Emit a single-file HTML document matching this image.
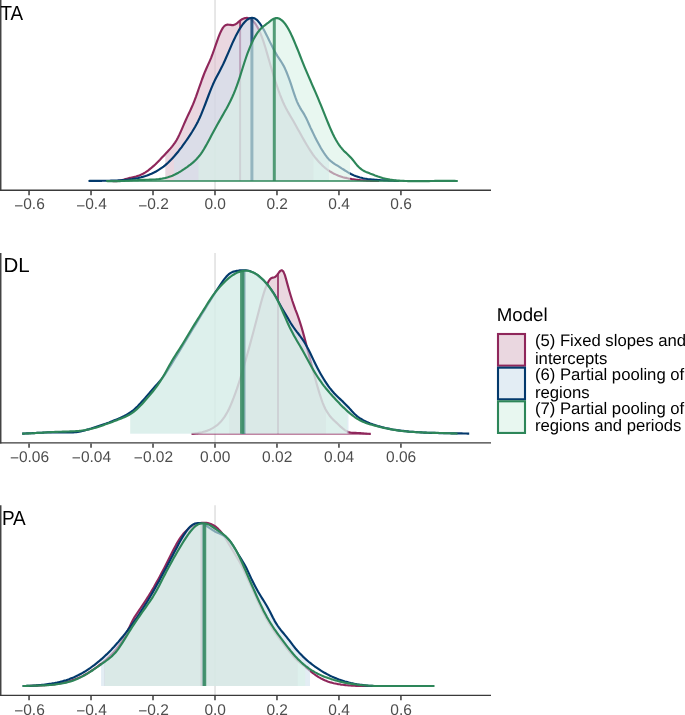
<!DOCTYPE html>
<html><head><meta charset="utf-8"><title>Posterior densities</title>
<style>html,body{margin:0;padding:0;background:#fff;}svg{display:block;font-family:"Liberation Sans",sans-serif;-webkit-font-smoothing:antialiased;text-rendering:geometricPrecision;}text{-webkit-font-smoothing:antialiased;}</style></head><body>
<svg style="will-change:transform" width="685" height="715" viewBox="0 0 685 715">
<rect x="0" y="0" width="685" height="715" fill="#ffffff"/>
<defs><clipPath id="c0m"><rect x="165.30" y="-5.00" width="148.20" height="186.00"/></clipPath><clipPath id="c0b"><rect x="174.10" y="-5.00" width="154.90" height="186.00"/></clipPath><clipPath id="c0g"><rect x="198.50" y="-5.00" width="151.50" height="186.00"/></clipPath><clipPath id="c1m"><rect x="229.10" y="247.90" width="96.90" height="185.80"/></clipPath><clipPath id="c1b"><rect x="130.40" y="247.90" width="218.10" height="185.80"/></clipPath><clipPath id="c1g"><rect x="130.20" y="247.90" width="216.90" height="185.80"/></clipPath><clipPath id="c2m"><rect x="104.10" y="500.30" width="193.70" height="185.70"/></clipPath><clipPath id="c2b"><rect x="101.05" y="500.30" width="208.95" height="185.70"/></clipPath><clipPath id="c2g"><rect x="104.60" y="500.30" width="200.65" height="185.70"/></clipPath></defs>
<line x1="215.05" x2="215.05" y1="0.00" y2="190.25" stroke="#e6e6e6" stroke-width="1.9"/>
<path d="M112.0,181.0L113.5,181.1L115.0,181.1L116.5,181.1L118.0,181.0L119.5,180.7L121.0,180.4L122.5,180.0L124.0,179.6L125.5,179.1L127.0,178.7L128.5,178.3L130.0,177.9L131.5,177.6L133.0,177.2L134.5,176.9L136.0,176.5L137.5,176.0L139.0,175.5L140.5,174.9L142.0,174.2L143.5,173.5L145.0,172.6L146.5,171.6L148.0,170.6L149.5,169.4L151.0,168.2L152.5,166.9L154.0,165.6L155.5,164.2L157.0,162.7L158.5,161.2L160.0,159.7L161.5,158.1L163.0,156.5L164.5,154.9L166.0,153.3L167.5,151.7L169.0,150.1L170.5,148.4L172.0,146.6L173.5,144.7L175.0,142.6L176.5,140.2L178.0,137.5L179.5,134.4L181.0,131.1L182.5,127.6L184.0,124.1L185.5,120.7L187.0,117.4L188.5,114.3L190.0,111.1L191.5,107.8L193.0,104.4L194.5,100.6L196.0,96.6L197.5,92.3L199.0,88.0L200.5,83.8L202.0,79.5L203.5,75.5L205.0,71.7L206.5,68.3L208.0,64.9L209.5,61.6L211.0,58.1L212.5,54.2L214.0,50.0L215.5,45.7L217.0,41.3L218.5,37.2L220.0,33.4L221.5,30.2L223.0,27.6L224.5,25.9L226.0,25.0L227.5,24.6L229.0,24.7L230.5,24.9L232.0,25.1L233.5,25.1L235.0,24.6L236.5,23.7L238.0,22.4L239.5,21.1L241.0,19.9L242.5,19.0L244.0,18.4L245.5,18.0L247.0,17.9L248.5,18.2L250.0,18.8L251.5,19.7L253.0,21.0L254.5,22.7L256.0,24.7L257.5,27.2L259.0,30.1L260.5,33.5L262.0,37.3L263.5,41.6L265.0,46.3L266.5,51.4L268.0,56.6L269.5,61.8L271.0,67.0L272.5,72.0L274.0,76.9L275.5,81.7L277.0,86.2L278.5,90.5L280.0,94.6L281.5,98.4L283.0,102.0L284.5,105.2L286.0,108.2L287.5,111.0L289.0,113.6L290.5,116.2L292.0,118.7L293.5,121.3L295.0,124.0L296.5,126.7L298.0,129.4L299.5,132.1L301.0,134.8L302.5,137.5L304.0,140.1L305.5,142.7L307.0,145.3L308.5,147.7L310.0,150.1L311.5,152.4L313.0,154.6L314.5,156.6L316.0,158.5L317.5,160.3L319.0,162.0L320.5,163.6L322.0,165.1L323.5,166.5L325.0,167.8L326.5,169.0L328.0,170.1L329.5,171.1L331.0,172.0L332.5,172.9L334.0,173.7L335.5,174.4L337.0,175.1L338.5,175.7L340.0,176.2L341.5,176.7L343.0,177.2L344.5,177.6L346.0,177.9L347.5,178.3L349.0,178.6L350.5,178.8L352.0,179.1L353.5,179.3L355.0,179.5L356.5,179.7L358.0,179.9L359.5,180.0L361.0,180.2L362.5,180.3L364.0,180.4L365.5,180.5L367.0,180.6L368.5,180.7L370.0,180.8L371.5,180.8L373.0,180.9L374.5,180.9L376.0,181.0L377.5,181.0L379.0,181.0L379.0,181.0 L112.0,181.0 Z" fill="#dcbccc" fill-opacity="0.60" stroke="none" clip-path="url(#c0m)"/>
<line x1="240.10" x2="240.10" y1="20.60" y2="181.00" stroke="#8f275b" stroke-opacity="0.80" stroke-width="2.00"/>
<path d="M112.0,181.0L113.5,181.1L115.0,181.1L116.5,181.1L118.0,181.0L119.5,180.7L121.0,180.4L122.5,180.0L124.0,179.6L125.5,179.1L127.0,178.7L128.5,178.3L130.0,177.9L131.5,177.6L133.0,177.2L134.5,176.9L136.0,176.5L137.5,176.0L139.0,175.5L140.5,174.9L142.0,174.2L143.5,173.5L145.0,172.6L146.5,171.6L148.0,170.6L149.5,169.4L151.0,168.2L152.5,166.9L154.0,165.6L155.5,164.2L157.0,162.7L158.5,161.2L160.0,159.7L161.5,158.1L163.0,156.5L164.5,154.9L166.0,153.3L167.5,151.7L169.0,150.1L170.5,148.4L172.0,146.6L173.5,144.7L175.0,142.6L176.5,140.2L178.0,137.5L179.5,134.4L181.0,131.1L182.5,127.6L184.0,124.1L185.5,120.7L187.0,117.4L188.5,114.3L190.0,111.1L191.5,107.8L193.0,104.4L194.5,100.6L196.0,96.6L197.5,92.3L199.0,88.0L200.5,83.8L202.0,79.5L203.5,75.5L205.0,71.7L206.5,68.3L208.0,64.9L209.5,61.6L211.0,58.1L212.5,54.2L214.0,50.0L215.5,45.7L217.0,41.3L218.5,37.2L220.0,33.4L221.5,30.2L223.0,27.6L224.5,25.9L226.0,25.0L227.5,24.6L229.0,24.7L230.5,24.9L232.0,25.1L233.5,25.1L235.0,24.6L236.5,23.7L238.0,22.4L239.5,21.1L241.0,19.9L242.5,19.0L244.0,18.4L245.5,18.0L247.0,17.9L248.5,18.2L250.0,18.8L251.5,19.7L253.0,21.0L254.5,22.7L256.0,24.7L257.5,27.2L259.0,30.1L260.5,33.5L262.0,37.3L263.5,41.6L265.0,46.3L266.5,51.4L268.0,56.6L269.5,61.8L271.0,67.0L272.5,72.0L274.0,76.9L275.5,81.7L277.0,86.2L278.5,90.5L280.0,94.6L281.5,98.4L283.0,102.0L284.5,105.2L286.0,108.2L287.5,111.0L289.0,113.6L290.5,116.2L292.0,118.7L293.5,121.3L295.0,124.0L296.5,126.7L298.0,129.4L299.5,132.1L301.0,134.8L302.5,137.5L304.0,140.1L305.5,142.7L307.0,145.3L308.5,147.7L310.0,150.1L311.5,152.4L313.0,154.6L314.5,156.6L316.0,158.5L317.5,160.3L319.0,162.0L320.5,163.6L322.0,165.1L323.5,166.5L325.0,167.8L326.5,169.0L328.0,170.1L329.5,171.1L331.0,172.0L332.5,172.9L334.0,173.7L335.5,174.4L337.0,175.1L338.5,175.7L340.0,176.2L341.5,176.7L343.0,177.2L344.5,177.6L346.0,177.9L347.5,178.3L349.0,178.6L350.5,178.8L352.0,179.1L353.5,179.3L355.0,179.5L356.5,179.7L358.0,179.9L359.5,180.0L361.0,180.2L362.5,180.3L364.0,180.4L365.5,180.5L367.0,180.6L368.5,180.7L370.0,180.8L371.5,180.8L373.0,180.9L374.5,180.9L376.0,181.0L377.5,181.0L379.0,181.0" fill="none" stroke="#8f275b" stroke-width="2.15" stroke-linejoin="round" stroke-linecap="butt"/>
<path d="M88.5,181.0L90.0,180.9L91.5,180.9L93.0,180.9L94.5,180.8L96.0,180.8L97.5,180.8L99.0,180.8L100.5,180.8L102.0,180.8L103.5,180.7L105.0,180.7L106.5,180.7L108.0,180.7L109.5,180.7L111.0,180.6L112.5,180.6L114.0,180.6L115.5,180.5L117.0,180.5L118.5,180.4L120.0,180.3L121.5,180.2L123.0,180.1L124.5,180.0L126.0,179.8L127.5,179.7L129.0,179.5L130.5,179.3L132.0,179.1L133.5,178.8L135.0,178.6L136.5,178.3L138.0,178.0L139.5,177.6L141.0,177.3L142.5,176.9L144.0,176.4L145.5,176.0L147.0,175.5L148.5,174.9L150.0,174.3L151.5,173.7L153.0,173.0L154.5,172.3L156.0,171.5L157.5,170.6L159.0,169.7L160.5,168.7L162.0,167.7L163.5,166.6L165.0,165.4L166.5,164.1L168.0,162.8L169.5,161.3L171.0,159.8L172.5,158.2L174.0,156.6L175.5,154.8L177.0,153.0L178.5,151.2L180.0,149.2L181.5,147.3L183.0,145.2L184.5,143.1L186.0,141.0L187.5,138.8L189.0,136.6L190.5,134.3L192.0,132.0L193.5,129.5L195.0,127.0L196.5,124.3L198.0,121.4L199.5,118.3L201.0,114.9L202.5,111.2L204.0,107.4L205.5,103.5L207.0,99.5L208.5,95.5L210.0,91.6L211.5,87.8L213.0,84.3L214.5,81.1L216.0,78.1L217.5,75.2L219.0,72.4L220.5,69.5L222.0,66.6L223.5,63.5L225.0,60.2L226.5,56.8L228.0,53.3L229.5,49.8L231.0,46.3L232.5,42.9L234.0,39.7L235.5,36.6L237.0,33.7L238.5,30.9L240.0,28.4L241.5,26.1L243.0,24.0L244.5,22.2L246.0,20.7L247.5,19.5L249.0,18.6L250.5,18.0L252.0,17.9L253.5,18.0L255.0,18.6L256.5,19.6L258.0,21.1L259.5,22.9L261.0,25.0L262.5,27.5L264.0,30.1L265.5,33.0L267.0,35.9L268.5,39.0L270.0,42.1L271.5,45.1L273.0,48.1L274.5,51.0L276.0,53.6L277.5,56.1L279.0,58.3L280.5,60.6L282.0,63.0L283.5,65.6L285.0,68.6L286.5,72.0L288.0,75.8L289.5,79.9L291.0,84.2L292.5,88.8L294.0,93.3L295.5,97.7L297.0,101.6L298.5,104.8L300.0,107.6L301.5,110.1L303.0,112.4L304.5,114.9L306.0,117.7L307.5,120.9L309.0,124.2L310.5,127.6L312.0,130.8L313.5,133.9L315.0,137.0L316.5,139.9L318.0,142.7L319.5,145.5L321.0,148.2L322.5,150.7L324.0,153.0L325.5,155.2L327.0,157.2L328.5,158.9L330.0,160.4L331.5,161.7L333.0,162.8L334.5,163.9L336.0,164.8L337.5,165.7L339.0,166.6L340.5,167.6L342.0,168.6L343.5,169.5L345.0,170.5L346.5,171.4L348.0,172.4L349.5,173.2L351.0,174.0L352.5,174.7L354.0,175.4L355.5,176.0L357.0,176.5L358.5,177.0L360.0,177.5L361.5,177.8L363.0,178.2L364.5,178.5L366.0,178.7L367.5,179.0L369.0,179.2L370.5,179.3L372.0,179.5L373.5,179.6L375.0,179.8L376.5,179.9L378.0,180.0L379.5,180.1L381.0,180.2L382.5,180.3L384.0,180.4L385.5,180.4L387.0,180.5L388.5,180.6L390.0,180.7L391.5,180.7L393.0,180.8L394.5,180.9L396.0,180.9L397.5,181.0L399.0,181.0L399.0,181.0 L88.5,181.0 Z" fill="#d1e1ec" fill-opacity="0.60" stroke="none" clip-path="url(#c0b)"/>
<line x1="251.90" x2="251.90" y1="17.85" y2="181.00" stroke="#03396c" stroke-opacity="0.80" stroke-width="3.00"/>
<path d="M88.5,181.0L90.0,180.9L91.5,180.9L93.0,180.9L94.5,180.8L96.0,180.8L97.5,180.8L99.0,180.8L100.5,180.8L102.0,180.8L103.5,180.7L105.0,180.7L106.5,180.7L108.0,180.7L109.5,180.7L111.0,180.6L112.5,180.6L114.0,180.6L115.5,180.5L117.0,180.5L118.5,180.4L120.0,180.3L121.5,180.2L123.0,180.1L124.5,180.0L126.0,179.8L127.5,179.7L129.0,179.5L130.5,179.3L132.0,179.1L133.5,178.8L135.0,178.6L136.5,178.3L138.0,178.0L139.5,177.6L141.0,177.3L142.5,176.9L144.0,176.4L145.5,176.0L147.0,175.5L148.5,174.9L150.0,174.3L151.5,173.7L153.0,173.0L154.5,172.3L156.0,171.5L157.5,170.6L159.0,169.7L160.5,168.7L162.0,167.7L163.5,166.6L165.0,165.4L166.5,164.1L168.0,162.8L169.5,161.3L171.0,159.8L172.5,158.2L174.0,156.6L175.5,154.8L177.0,153.0L178.5,151.2L180.0,149.2L181.5,147.3L183.0,145.2L184.5,143.1L186.0,141.0L187.5,138.8L189.0,136.6L190.5,134.3L192.0,132.0L193.5,129.5L195.0,127.0L196.5,124.3L198.0,121.4L199.5,118.3L201.0,114.9L202.5,111.2L204.0,107.4L205.5,103.5L207.0,99.5L208.5,95.5L210.0,91.6L211.5,87.8L213.0,84.3L214.5,81.1L216.0,78.1L217.5,75.2L219.0,72.4L220.5,69.5L222.0,66.6L223.5,63.5L225.0,60.2L226.5,56.8L228.0,53.3L229.5,49.8L231.0,46.3L232.5,42.9L234.0,39.7L235.5,36.6L237.0,33.7L238.5,30.9L240.0,28.4L241.5,26.1L243.0,24.0L244.5,22.2L246.0,20.7L247.5,19.5L249.0,18.6L250.5,18.0L252.0,17.9L253.5,18.0L255.0,18.6L256.5,19.6L258.0,21.1L259.5,22.9L261.0,25.0L262.5,27.5L264.0,30.1L265.5,33.0L267.0,35.9L268.5,39.0L270.0,42.1L271.5,45.1L273.0,48.1L274.5,51.0L276.0,53.6L277.5,56.1L279.0,58.3L280.5,60.6L282.0,63.0L283.5,65.6L285.0,68.6L286.5,72.0L288.0,75.8L289.5,79.9L291.0,84.2L292.5,88.8L294.0,93.3L295.5,97.7L297.0,101.6L298.5,104.8L300.0,107.6L301.5,110.1L303.0,112.4L304.5,114.9L306.0,117.7L307.5,120.9L309.0,124.2L310.5,127.6L312.0,130.8L313.5,133.9L315.0,137.0L316.5,139.9L318.0,142.7L319.5,145.5L321.0,148.2L322.5,150.7L324.0,153.0L325.5,155.2L327.0,157.2L328.5,158.9L330.0,160.4L331.5,161.7L333.0,162.8L334.5,163.9L336.0,164.8L337.5,165.7L339.0,166.6L340.5,167.6L342.0,168.6L343.5,169.5L345.0,170.5L346.5,171.4L348.0,172.4L349.5,173.2L351.0,174.0L352.5,174.7L354.0,175.4L355.5,176.0L357.0,176.5L358.5,177.0L360.0,177.5L361.5,177.8L363.0,178.2L364.5,178.5L366.0,178.7L367.5,179.0L369.0,179.2L370.5,179.3L372.0,179.5L373.5,179.6L375.0,179.8L376.5,179.9L378.0,180.0L379.5,180.1L381.0,180.2L382.5,180.3L384.0,180.4L385.5,180.4L387.0,180.5L388.5,180.6L390.0,180.7L391.5,180.7L393.0,180.8L394.5,180.9L396.0,180.9L397.5,181.0L399.0,181.0" fill="none" stroke="#03396c" stroke-width="2.15" stroke-linejoin="round" stroke-linecap="butt"/>
<path d="M106.3,181.0L107.8,181.1L109.3,181.1L110.8,181.1L112.3,181.1L113.8,181.1L115.3,181.1L116.8,181.1L118.3,181.1L119.8,181.1L121.3,181.0L122.8,181.0L124.3,180.9L125.8,180.8L127.3,180.7L128.8,180.6L130.3,180.5L131.8,180.4L133.3,180.3L134.8,180.2L136.3,180.2L137.8,180.1L139.3,180.0L140.8,179.9L142.3,179.9L143.8,179.8L145.3,179.8L146.8,179.7L148.3,179.7L149.8,179.6L151.3,179.6L152.8,179.5L154.3,179.5L155.8,179.4L157.3,179.2L158.8,179.1L160.3,178.9L161.8,178.7L163.3,178.4L164.8,178.1L166.4,177.7L167.9,177.3L169.4,176.8L170.9,176.3L172.4,175.7L173.9,175.0L175.4,174.3L176.9,173.5L178.4,172.7L179.9,171.8L181.4,170.9L182.9,169.9L184.4,168.9L185.9,167.8L187.4,166.8L188.9,165.7L190.4,164.6L191.9,163.4L193.4,162.1L194.9,160.7L196.4,159.2L197.9,157.6L199.4,155.8L200.9,153.8L202.4,151.6L203.9,149.2L205.4,146.6L206.9,144.0L208.4,141.2L209.9,138.4L211.4,135.6L212.9,132.8L214.4,130.0L215.9,127.2L217.4,124.5L218.9,121.9L220.4,119.2L221.9,116.6L223.4,113.9L224.9,111.3L226.4,108.7L227.9,105.9L229.4,103.1L230.9,100.0L232.4,96.8L233.9,93.4L235.4,89.7L236.9,85.7L238.4,81.4L239.9,76.8L241.4,72.0L242.9,67.2L244.4,62.5L245.9,58.0L247.4,53.7L248.9,49.8L250.4,46.1L251.9,42.7L253.4,39.6L254.9,36.9L256.4,34.4L257.9,32.2L259.4,30.3L260.9,28.6L262.4,27.2L263.9,26.0L265.4,24.8L266.9,23.7L268.4,22.6L269.9,21.4L271.4,20.2L272.9,19.2L274.4,18.5L275.9,18.1L277.4,18.1L278.9,18.5L280.4,19.3L281.9,20.4L283.5,21.9L285.0,23.7L286.5,25.9L288.0,28.3L289.5,31.1L291.0,34.1L292.5,37.3L294.0,40.7L295.5,44.3L297.0,48.0L298.5,51.7L300.0,55.5L301.5,59.3L303.0,63.1L304.5,66.8L306.0,70.4L307.5,73.9L309.0,77.4L310.5,80.8L312.0,84.3L313.5,87.7L315.0,91.2L316.5,94.7L318.0,98.2L319.5,101.8L321.0,105.4L322.5,109.1L324.0,112.8L325.5,116.6L327.0,120.3L328.5,124.0L330.0,127.6L331.5,131.0L333.0,134.3L334.5,137.3L336.0,140.0L337.5,142.5L339.0,144.8L340.5,146.8L342.0,148.7L343.5,150.4L345.0,151.9L346.5,153.3L348.0,154.7L349.5,156.2L351.0,157.8L352.5,159.5L354.0,161.4L355.5,163.3L357.0,165.2L358.5,166.8L360.0,168.2L361.5,169.4L363.0,170.4L364.5,171.2L366.0,171.9L367.5,172.5L369.0,173.1L370.5,173.7L372.0,174.2L373.5,174.8L375.0,175.4L376.5,175.9L378.0,176.5L379.5,177.0L381.0,177.5L382.5,178.0L384.0,178.4L385.5,178.7L387.0,179.0L388.5,179.3L390.0,179.6L391.5,179.8L393.0,180.0L394.5,180.2L396.0,180.4L397.5,180.5L399.1,180.6L400.6,180.7L402.1,180.8L403.6,180.9L405.1,181.0L406.6,181.0L408.1,181.1L409.6,181.1L411.1,181.1L412.6,181.1L414.1,181.1L415.6,181.1L417.1,181.1L418.6,181.1L420.1,181.1L421.6,181.1L423.1,181.1L424.6,181.1L426.1,181.1L427.6,181.1L429.1,181.1L430.6,181.0L432.1,181.0L433.6,181.0L435.1,180.9L436.6,180.9L438.1,180.9L439.6,180.9L441.1,180.8L442.6,180.8L444.1,180.8L445.6,180.8L447.1,180.8L448.6,180.8L450.1,180.8L451.6,180.8L453.1,180.9L454.6,180.9L456.1,181.0L457.6,181.0L457.6,181.0 L106.3,181.0 Z" fill="#d9f2e6" fill-opacity="0.60" stroke="none" clip-path="url(#c0g)"/>
<line x1="106.30" x2="457.60" y1="180.95" y2="180.95" stroke="#2d8659" stroke-width="1.4" stroke-opacity="1.00"/>
<line x1="274.30" x2="274.30" y1="18.56" y2="181.00" stroke="#2d8659" stroke-opacity="0.80" stroke-width="3.00"/>
<path d="M106.3,181.0L107.8,181.1L109.3,181.1L110.8,181.1L112.3,181.1L113.8,181.1L115.3,181.1L116.8,181.1L118.3,181.1L119.8,181.1L121.3,181.0L122.8,181.0L124.3,180.9L125.8,180.8L127.3,180.7L128.8,180.6L130.3,180.5L131.8,180.4L133.3,180.3L134.8,180.2L136.3,180.2L137.8,180.1L139.3,180.0L140.8,179.9L142.3,179.9L143.8,179.8L145.3,179.8L146.8,179.7L148.3,179.7L149.8,179.6L151.3,179.6L152.8,179.5L154.3,179.5L155.8,179.4L157.3,179.2L158.8,179.1L160.3,178.9L161.8,178.7L163.3,178.4L164.8,178.1L166.4,177.7L167.9,177.3L169.4,176.8L170.9,176.3L172.4,175.7L173.9,175.0L175.4,174.3L176.9,173.5L178.4,172.7L179.9,171.8L181.4,170.9L182.9,169.9L184.4,168.9L185.9,167.8L187.4,166.8L188.9,165.7L190.4,164.6L191.9,163.4L193.4,162.1L194.9,160.7L196.4,159.2L197.9,157.6L199.4,155.8L200.9,153.8L202.4,151.6L203.9,149.2L205.4,146.6L206.9,144.0L208.4,141.2L209.9,138.4L211.4,135.6L212.9,132.8L214.4,130.0L215.9,127.2L217.4,124.5L218.9,121.9L220.4,119.2L221.9,116.6L223.4,113.9L224.9,111.3L226.4,108.7L227.9,105.9L229.4,103.1L230.9,100.0L232.4,96.8L233.9,93.4L235.4,89.7L236.9,85.7L238.4,81.4L239.9,76.8L241.4,72.0L242.9,67.2L244.4,62.5L245.9,58.0L247.4,53.7L248.9,49.8L250.4,46.1L251.9,42.7L253.4,39.6L254.9,36.9L256.4,34.4L257.9,32.2L259.4,30.3L260.9,28.6L262.4,27.2L263.9,26.0L265.4,24.8L266.9,23.7L268.4,22.6L269.9,21.4L271.4,20.2L272.9,19.2L274.4,18.5L275.9,18.1L277.4,18.1L278.9,18.5L280.4,19.3L281.9,20.4L283.5,21.9L285.0,23.7L286.5,25.9L288.0,28.3L289.5,31.1L291.0,34.1L292.5,37.3L294.0,40.7L295.5,44.3L297.0,48.0L298.5,51.7L300.0,55.5L301.5,59.3L303.0,63.1L304.5,66.8L306.0,70.4L307.5,73.9L309.0,77.4L310.5,80.8L312.0,84.3L313.5,87.7L315.0,91.2L316.5,94.7L318.0,98.2L319.5,101.8L321.0,105.4L322.5,109.1L324.0,112.8L325.5,116.6L327.0,120.3L328.5,124.0L330.0,127.6L331.5,131.0L333.0,134.3L334.5,137.3L336.0,140.0L337.5,142.5L339.0,144.8L340.5,146.8L342.0,148.7L343.5,150.4L345.0,151.9L346.5,153.3L348.0,154.7L349.5,156.2L351.0,157.8L352.5,159.5L354.0,161.4L355.5,163.3L357.0,165.2L358.5,166.8L360.0,168.2L361.5,169.4L363.0,170.4L364.5,171.2L366.0,171.9L367.5,172.5L369.0,173.1L370.5,173.7L372.0,174.2L373.5,174.8L375.0,175.4L376.5,175.9L378.0,176.5L379.5,177.0L381.0,177.5L382.5,178.0L384.0,178.4L385.5,178.7L387.0,179.0L388.5,179.3L390.0,179.6L391.5,179.8L393.0,180.0L394.5,180.2L396.0,180.4L397.5,180.5L399.1,180.6L400.6,180.7L402.1,180.8L403.6,180.9L405.1,181.0L406.6,181.0L408.1,181.1L409.6,181.1L411.1,181.1L412.6,181.1L414.1,181.1L415.6,181.1L417.1,181.1L418.6,181.1L420.1,181.1L421.6,181.1L423.1,181.1L424.6,181.1L426.1,181.1L427.6,181.1L429.1,181.1L430.6,181.0L432.1,181.0L433.6,181.0L435.1,180.9L436.6,180.9L438.1,180.9L439.6,180.9L441.1,180.8L442.6,180.8L444.1,180.8L445.6,180.8L447.1,180.8L448.6,180.8L450.1,180.8L451.6,180.8L453.1,180.9L454.6,180.9L456.1,181.0L457.6,181.0" fill="none" stroke="#2d8659" stroke-width="2.15" stroke-linejoin="round" stroke-linecap="butt"/>
<line x1="0.75" x2="0.75" y1="0.00" y2="190.95" stroke="#3a3a3a" stroke-width="1.4"/>
<line x1="0" x2="491" y1="190.25" y2="190.25" stroke="#3a3a3a" stroke-width="1.4"/>
<line x1="29.05" x2="29.05" y1="190.85" y2="195.15" stroke="#3a3a3a" stroke-width="1.5"/>
<text x="29.50" y="209.45" font-size="15.5" fill="#4d4d4d" text-anchor="middle"><tspan dy="1.2">−</tspan><tspan dy="-1.2">0.6</tspan></text>
<line x1="91.03" x2="91.03" y1="190.85" y2="195.15" stroke="#3a3a3a" stroke-width="1.5"/>
<text x="91.48" y="209.45" font-size="15.5" fill="#4d4d4d" text-anchor="middle"><tspan dy="1.2">−</tspan><tspan dy="-1.2">0.4</tspan></text>
<line x1="153.01" x2="153.01" y1="190.85" y2="195.15" stroke="#3a3a3a" stroke-width="1.5"/>
<text x="153.46" y="209.45" font-size="15.5" fill="#4d4d4d" text-anchor="middle"><tspan dy="1.2">−</tspan><tspan dy="-1.2">0.2</tspan></text>
<line x1="214.99" x2="214.99" y1="190.85" y2="195.15" stroke="#3a3a3a" stroke-width="1.5"/>
<text x="215.19" y="209.45" font-size="15.5" fill="#4d4d4d" text-anchor="middle">0.0</text>
<line x1="276.97" x2="276.97" y1="190.85" y2="195.15" stroke="#3a3a3a" stroke-width="1.5"/>
<text x="277.17" y="209.45" font-size="15.5" fill="#4d4d4d" text-anchor="middle">0.2</text>
<line x1="338.95" x2="338.95" y1="190.85" y2="195.15" stroke="#3a3a3a" stroke-width="1.5"/>
<text x="339.15" y="209.45" font-size="15.5" fill="#4d4d4d" text-anchor="middle">0.4</text>
<line x1="400.93" x2="400.93" y1="190.85" y2="195.15" stroke="#3a3a3a" stroke-width="1.5"/>
<text x="401.13" y="209.45" font-size="15.5" fill="#4d4d4d" text-anchor="middle">0.6</text>
<text transform="translate(0.42,19.70) scale(0.925,1)" x="0" y="0" font-size="20.4" fill="#000000">TA</text>
<line x1="215.05" x2="215.05" y1="252.90" y2="442.90" stroke="#e6e6e6" stroke-width="1.9"/>
<path d="M191.6,433.8L193.1,433.7L194.6,433.5L196.1,433.3L197.6,433.1L199.1,432.8L200.6,432.5L202.1,432.2L203.6,431.8L205.1,431.4L206.7,430.9L208.2,430.3L209.7,429.7L211.2,428.9L212.7,428.1L214.2,427.2L215.7,426.2L217.2,425.1L218.7,423.8L220.2,422.3L221.7,420.6L223.2,418.7L224.7,416.6L226.2,414.1L227.7,411.5L229.2,408.5L230.7,405.1L232.2,401.5L233.7,397.7L235.2,393.6L236.8,389.2L238.3,384.7L239.8,380.0L241.3,375.1L242.8,370.0L244.3,364.9L245.8,359.6L247.3,354.3L248.8,348.9L250.3,343.4L251.8,337.8L253.3,332.2L254.8,326.5L256.3,320.7L257.8,315.0L259.3,309.2L260.8,303.5L262.3,298.1L263.8,293.1L265.3,288.6L266.9,284.7L268.4,281.6L269.9,279.4L271.4,278.0L272.9,277.6L274.4,277.3L275.9,276.3L277.4,274.6L278.9,272.5L280.4,270.7L281.9,270.2L283.4,271.6L284.9,275.1L286.4,280.4L287.9,285.9L289.4,291.2L290.9,296.2L292.4,301.0L293.9,305.4L295.4,309.6L297.0,313.7L298.5,317.8L300.0,322.3L301.5,327.1L303.0,332.4L304.5,337.9L306.0,343.6L307.5,349.4L309.0,355.1L310.5,360.8L312.0,366.5L313.5,372.1L315.0,377.7L316.5,383.2L318.0,388.4L319.5,393.4L321.0,398.0L322.5,402.3L324.0,406.0L325.5,409.2L327.1,411.9L328.6,414.2L330.1,416.3L331.6,418.0L333.1,419.6L334.6,421.0L336.1,422.4L337.6,423.8L339.1,425.2L340.6,426.6L342.1,427.9L343.6,429.2L345.1,430.3L346.6,431.2L348.1,432.0L349.6,432.4L351.1,432.7L352.6,432.9L354.1,432.9L355.6,432.9L357.2,433.0L358.7,433.0L360.2,433.1L361.7,433.3L363.2,433.4L364.7,433.5L366.2,433.6L367.7,433.7L369.2,433.8L370.7,433.8L370.7,433.7 L191.6,433.7 Z" fill="#dcbccc" fill-opacity="0.60" stroke="none" clip-path="url(#c1m)"/>
<line x1="191.60" x2="370.70" y1="434.00" y2="434.00" stroke="#8f275b" stroke-width="1.4" stroke-opacity="0.75"/>
<line x1="278.00" x2="278.00" y1="273.76" y2="433.70" stroke="#8f275b" stroke-opacity="0.80" stroke-width="2.00"/>
<path d="M191.6,433.8L193.1,433.7L194.6,433.5L196.1,433.3L197.6,433.1L199.1,432.8L200.6,432.5L202.1,432.2L203.6,431.8L205.1,431.4L206.7,430.9L208.2,430.3L209.7,429.7L211.2,428.9L212.7,428.1L214.2,427.2L215.7,426.2L217.2,425.1L218.7,423.8L220.2,422.3L221.7,420.6L223.2,418.7L224.7,416.6L226.2,414.1L227.7,411.5L229.2,408.5L230.7,405.1L232.2,401.5L233.7,397.7L235.2,393.6L236.8,389.2L238.3,384.7L239.8,380.0L241.3,375.1L242.8,370.0L244.3,364.9L245.8,359.6L247.3,354.3L248.8,348.9L250.3,343.4L251.8,337.8L253.3,332.2L254.8,326.5L256.3,320.7L257.8,315.0L259.3,309.2L260.8,303.5L262.3,298.1L263.8,293.1L265.3,288.6L266.9,284.7L268.4,281.6L269.9,279.4L271.4,278.0L272.9,277.6L274.4,277.3L275.9,276.3L277.4,274.6L278.9,272.5L280.4,270.7L281.9,270.2L283.4,271.6L284.9,275.1L286.4,280.4L287.9,285.9L289.4,291.2L290.9,296.2L292.4,301.0L293.9,305.4L295.4,309.6L297.0,313.7L298.5,317.8L300.0,322.3L301.5,327.1L303.0,332.4L304.5,337.9L306.0,343.6L307.5,349.4L309.0,355.1L310.5,360.8L312.0,366.5L313.5,372.1L315.0,377.7L316.5,383.2L318.0,388.4L319.5,393.4L321.0,398.0L322.5,402.3L324.0,406.0L325.5,409.2L327.1,411.9L328.6,414.2L330.1,416.3L331.6,418.0L333.1,419.6L334.6,421.0L336.1,422.4L337.6,423.8L339.1,425.2L340.6,426.6L342.1,427.9L343.6,429.2L345.1,430.3L346.6,431.2L348.1,432.0L349.6,432.4L351.1,432.7L352.6,432.9L354.1,432.9L355.6,432.9L357.2,433.0L358.7,433.0L360.2,433.1L361.7,433.3L363.2,433.4L364.7,433.5L366.2,433.6L367.7,433.7L369.2,433.8L370.7,433.8" fill="none" stroke="#8f275b" stroke-width="2.15" stroke-linejoin="round" stroke-linecap="butt"/>
<path d="M22.2,433.6L23.7,433.6L25.2,433.5L26.7,433.4L28.2,433.4L29.7,433.3L31.2,433.2L32.7,433.1L34.2,433.1L35.7,433.0L37.2,432.9L38.7,432.8L40.2,432.7L41.7,432.7L43.2,432.6L44.7,432.5L46.2,432.5L47.7,432.4L49.2,432.4L50.7,432.3L52.2,432.3L53.7,432.3L55.2,432.3L56.7,432.3L58.2,432.3L59.7,432.4L61.2,432.4L62.7,432.4L64.2,432.5L65.7,432.5L67.2,432.5L68.7,432.5L70.2,432.5L71.7,432.4L73.2,432.4L74.7,432.2L76.2,432.1L77.7,431.9L79.2,431.6L80.7,431.4L82.2,431.0L83.7,430.7L85.2,430.3L86.7,429.8L88.2,429.4L89.7,428.9L91.2,428.5L92.7,428.0L94.2,427.5L95.7,427.0L97.2,426.5L98.7,426.0L100.2,425.5L101.7,425.0L103.2,424.5L104.7,424.0L106.2,423.5L107.7,422.9L109.2,422.4L110.7,421.8L112.2,421.2L113.7,420.6L115.2,420.0L116.7,419.4L118.2,418.8L119.7,418.1L121.2,417.4L122.7,416.7L124.2,416.0L125.7,415.2L127.2,414.3L128.7,413.4L130.2,412.5L131.7,411.4L133.2,410.3L134.7,409.0L136.2,407.6L137.7,406.2L139.2,404.6L140.7,403.0L142.2,401.3L143.7,399.6L145.2,397.9L146.7,396.1L148.2,394.4L149.7,392.7L151.2,390.9L152.7,389.2L154.2,387.5L155.7,385.8L157.2,384.1L158.7,382.4L160.2,380.7L161.7,378.9L163.2,377.0L164.7,374.8L166.2,372.5L167.7,370.2L169.2,367.8L170.7,365.4L172.2,362.9L173.7,360.5L175.2,358.0L176.7,355.6L178.2,353.1L179.7,350.6L181.2,348.2L182.7,345.7L184.2,343.2L185.7,340.7L187.2,338.2L188.7,335.8L190.2,333.3L191.7,330.8L193.2,328.3L194.7,325.9L196.2,323.4L197.7,320.9L199.2,318.5L200.7,316.0L202.2,313.5L203.7,311.1L205.2,308.6L206.7,306.2L208.2,303.8L209.7,301.4L211.2,299.0L212.7,296.6L214.2,294.2L215.7,291.9L217.2,289.6L218.7,287.3L220.2,285.0L221.7,282.8L223.2,280.7L224.7,278.7L226.2,276.8L227.7,275.2L229.2,273.9L230.7,272.9L232.2,272.1L233.7,271.6L235.2,271.2L236.7,270.9L238.2,270.7L239.7,270.4L241.2,270.3L242.7,270.2L244.2,270.2L245.7,270.3L247.2,270.5L248.7,270.8L250.2,271.3L251.7,271.9L253.2,272.6L254.7,273.4L256.2,274.4L257.7,275.4L259.2,276.6L260.7,277.8L262.2,279.2L263.7,280.6L265.2,282.2L266.7,283.8L268.2,285.6L269.7,287.6L271.2,289.6L272.7,291.8L274.2,294.1L275.7,296.7L277.2,299.4L278.7,302.3L280.2,305.0L281.7,307.7L283.2,310.3L284.7,312.8L286.2,315.4L287.7,317.9L289.2,320.5L290.7,323.0L292.2,325.3L293.7,327.5L295.2,329.6L296.7,331.6L298.2,333.5L299.7,335.5L301.2,337.6L302.7,339.7L304.2,342.0L305.7,344.5L307.2,347.2L308.7,350.1L310.2,353.1L311.7,356.2L313.2,359.4L314.7,362.5L316.2,365.5L317.7,368.4L319.2,371.2L320.7,373.9L322.2,376.5L323.7,379.0L325.2,381.4L326.7,383.6L328.2,385.8L329.7,387.8L331.2,389.7L332.7,391.5L334.2,393.2L335.7,394.8L337.2,396.3L338.7,397.7L340.2,399.1L341.7,400.5L343.2,401.9L344.7,403.4L346.2,404.9L347.7,406.5L349.2,408.1L350.7,409.8L352.2,411.5L353.7,413.1L355.2,414.5L356.7,415.8L358.2,417.0L359.7,418.1L361.2,419.0L362.7,419.9L364.2,420.7L365.7,421.4L367.2,422.1L368.7,422.8L370.2,423.4L371.7,423.9L373.2,424.5L374.7,425.0L376.2,425.5L377.7,426.0L379.2,426.4L380.7,426.8L382.2,427.2L383.7,427.6L385.2,428.0L386.7,428.3L388.2,428.6L389.7,428.9L391.2,429.2L392.7,429.5L394.2,429.7L395.7,429.9L397.2,430.2L398.7,430.4L400.2,430.6L401.7,430.8L403.2,430.9L404.7,431.1L406.2,431.3L407.7,431.4L409.2,431.6L410.7,431.7L412.2,431.8L413.7,431.9L415.2,432.0L416.7,432.1L418.2,432.2L419.7,432.3L421.2,432.4L422.7,432.5L424.2,432.6L425.7,432.6L427.2,432.7L428.7,432.8L430.2,432.8L431.7,432.9L433.2,432.9L434.7,432.9L436.2,433.0L437.7,433.0L439.2,433.1L440.7,433.1L442.2,433.1L443.7,433.1L445.2,433.2L446.7,433.2L448.2,433.2L449.7,433.2L451.2,433.3L452.7,433.3L454.2,433.3L455.7,433.3L457.2,433.4L458.7,433.4L460.2,433.4L461.7,433.4L463.2,433.5L464.7,433.5L466.2,433.5L467.7,433.6L469.2,433.6L469.2,433.7 L22.2,433.7 Z" fill="#d1e1ec" fill-opacity="0.60" stroke="none" clip-path="url(#c1b)"/>
<line x1="243.60" x2="243.60" y1="270.16" y2="433.70" stroke="#03396c" stroke-opacity="0.80" stroke-width="4.00"/>
<path d="M22.2,433.6L23.7,433.6L25.2,433.5L26.7,433.4L28.2,433.4L29.7,433.3L31.2,433.2L32.7,433.1L34.2,433.1L35.7,433.0L37.2,432.9L38.7,432.8L40.2,432.7L41.7,432.7L43.2,432.6L44.7,432.5L46.2,432.5L47.7,432.4L49.2,432.4L50.7,432.3L52.2,432.3L53.7,432.3L55.2,432.3L56.7,432.3L58.2,432.3L59.7,432.4L61.2,432.4L62.7,432.4L64.2,432.5L65.7,432.5L67.2,432.5L68.7,432.5L70.2,432.5L71.7,432.4L73.2,432.4L74.7,432.2L76.2,432.1L77.7,431.9L79.2,431.6L80.7,431.4L82.2,431.0L83.7,430.7L85.2,430.3L86.7,429.8L88.2,429.4L89.7,428.9L91.2,428.5L92.7,428.0L94.2,427.5L95.7,427.0L97.2,426.5L98.7,426.0L100.2,425.5L101.7,425.0L103.2,424.5L104.7,424.0L106.2,423.5L107.7,422.9L109.2,422.4L110.7,421.8L112.2,421.2L113.7,420.6L115.2,420.0L116.7,419.4L118.2,418.8L119.7,418.1L121.2,417.4L122.7,416.7L124.2,416.0L125.7,415.2L127.2,414.3L128.7,413.4L130.2,412.5L131.7,411.4L133.2,410.3L134.7,409.0L136.2,407.6L137.7,406.2L139.2,404.6L140.7,403.0L142.2,401.3L143.7,399.6L145.2,397.9L146.7,396.1L148.2,394.4L149.7,392.7L151.2,390.9L152.7,389.2L154.2,387.5L155.7,385.8L157.2,384.1L158.7,382.4L160.2,380.7L161.7,378.9L163.2,377.0L164.7,374.8L166.2,372.5L167.7,370.2L169.2,367.8L170.7,365.4L172.2,362.9L173.7,360.5L175.2,358.0L176.7,355.6L178.2,353.1L179.7,350.6L181.2,348.2L182.7,345.7L184.2,343.2L185.7,340.7L187.2,338.2L188.7,335.8L190.2,333.3L191.7,330.8L193.2,328.3L194.7,325.9L196.2,323.4L197.7,320.9L199.2,318.5L200.7,316.0L202.2,313.5L203.7,311.1L205.2,308.6L206.7,306.2L208.2,303.8L209.7,301.4L211.2,299.0L212.7,296.6L214.2,294.2L215.7,291.9L217.2,289.6L218.7,287.3L220.2,285.0L221.7,282.8L223.2,280.7L224.7,278.7L226.2,276.8L227.7,275.2L229.2,273.9L230.7,272.9L232.2,272.1L233.7,271.6L235.2,271.2L236.7,270.9L238.2,270.7L239.7,270.4L241.2,270.3L242.7,270.2L244.2,270.2L245.7,270.3L247.2,270.5L248.7,270.8L250.2,271.3L251.7,271.9L253.2,272.6L254.7,273.4L256.2,274.4L257.7,275.4L259.2,276.6L260.7,277.8L262.2,279.2L263.7,280.6L265.2,282.2L266.7,283.8L268.2,285.6L269.7,287.6L271.2,289.6L272.7,291.8L274.2,294.1L275.7,296.7L277.2,299.4L278.7,302.3L280.2,305.0L281.7,307.7L283.2,310.3L284.7,312.8L286.2,315.4L287.7,317.9L289.2,320.5L290.7,323.0L292.2,325.3L293.7,327.5L295.2,329.6L296.7,331.6L298.2,333.5L299.7,335.5L301.2,337.6L302.7,339.7L304.2,342.0L305.7,344.5L307.2,347.2L308.7,350.1L310.2,353.1L311.7,356.2L313.2,359.4L314.7,362.5L316.2,365.5L317.7,368.4L319.2,371.2L320.7,373.9L322.2,376.5L323.7,379.0L325.2,381.4L326.7,383.6L328.2,385.8L329.7,387.8L331.2,389.7L332.7,391.5L334.2,393.2L335.7,394.8L337.2,396.3L338.7,397.7L340.2,399.1L341.7,400.5L343.2,401.9L344.7,403.4L346.2,404.9L347.7,406.5L349.2,408.1L350.7,409.8L352.2,411.5L353.7,413.1L355.2,414.5L356.7,415.8L358.2,417.0L359.7,418.1L361.2,419.0L362.7,419.9L364.2,420.7L365.7,421.4L367.2,422.1L368.7,422.8L370.2,423.4L371.7,423.9L373.2,424.5L374.7,425.0L376.2,425.5L377.7,426.0L379.2,426.4L380.7,426.8L382.2,427.2L383.7,427.6L385.2,428.0L386.7,428.3L388.2,428.6L389.7,428.9L391.2,429.2L392.7,429.5L394.2,429.7L395.7,429.9L397.2,430.2L398.7,430.4L400.2,430.6L401.7,430.8L403.2,430.9L404.7,431.1L406.2,431.3L407.7,431.4L409.2,431.6L410.7,431.7L412.2,431.8L413.7,431.9L415.2,432.0L416.7,432.1L418.2,432.2L419.7,432.3L421.2,432.4L422.7,432.5L424.2,432.6L425.7,432.6L427.2,432.7L428.7,432.8L430.2,432.8L431.7,432.9L433.2,432.9L434.7,432.9L436.2,433.0L437.7,433.0L439.2,433.1L440.7,433.1L442.2,433.1L443.7,433.1L445.2,433.2L446.7,433.2L448.2,433.2L449.7,433.2L451.2,433.3L452.7,433.3L454.2,433.3L455.7,433.3L457.2,433.4L458.7,433.4L460.2,433.4L461.7,433.4L463.2,433.5L464.7,433.5L466.2,433.5L467.7,433.6L469.2,433.6" fill="none" stroke="#03396c" stroke-width="2.15" stroke-linejoin="round" stroke-linecap="butt"/>
<path d="M22.2,433.6L23.7,433.6L25.2,433.5L26.7,433.5L28.2,433.4L29.7,433.3L31.2,433.3L32.7,433.2L34.2,433.1L35.7,433.0L37.2,432.9L38.7,432.9L40.2,432.8L41.7,432.7L43.2,432.6L44.7,432.5L46.2,432.4L47.7,432.3L49.2,432.2L50.7,432.1L52.2,432.0L53.7,432.0L55.2,431.9L56.7,431.8L58.2,431.8L59.7,431.7L61.2,431.7L62.7,431.6L64.2,431.6L65.7,431.6L67.2,431.5L68.7,431.5L70.2,431.4L71.7,431.4L73.2,431.3L74.7,431.2L76.2,431.1L77.7,431.0L79.2,430.9L80.7,430.7L82.2,430.5L83.7,430.3L85.2,430.1L86.7,429.8L88.2,429.5L89.7,429.2L91.2,428.8L92.7,428.5L94.2,428.0L95.8,427.6L97.3,427.2L98.8,426.7L100.3,426.2L101.8,425.7L103.3,425.2L104.8,424.6L106.3,424.1L107.8,423.6L109.3,423.0L110.8,422.4L112.3,421.9L113.8,421.3L115.3,420.8L116.8,420.2L118.3,419.6L119.8,419.0L121.3,418.4L122.8,417.8L124.3,417.2L125.8,416.5L127.3,415.7L128.8,415.0L130.3,414.1L131.8,413.1L133.3,412.1L134.8,410.9L136.3,409.7L137.8,408.3L139.3,406.8L140.8,405.3L142.3,403.7L143.8,402.0L145.3,400.3L146.8,398.6L148.3,396.9L149.8,395.1L151.3,393.3L152.8,391.5L154.3,389.6L155.8,387.7L157.3,385.6L158.8,383.5L160.3,381.2L161.8,378.8L163.3,376.3L164.8,373.7L166.3,371.0L167.8,368.3L169.3,365.6L170.8,362.9L172.3,360.3L173.8,357.9L175.3,355.5L176.8,353.2L178.3,350.9L179.8,348.5L181.3,346.1L182.8,343.7L184.3,341.2L185.8,338.7L187.3,336.2L188.8,333.7L190.3,331.2L191.8,328.8L193.3,326.3L194.8,323.9L196.3,321.5L197.8,319.1L199.3,316.7L200.8,314.3L202.3,312.0L203.8,309.6L205.3,307.2L206.8,304.8L208.3,302.4L209.8,300.1L211.3,297.9L212.8,295.7L214.3,293.7L215.8,291.7L217.3,289.8L218.8,288.1L220.3,286.4L221.8,284.7L223.3,283.2L224.8,281.7L226.3,280.3L227.8,278.9L229.3,277.7L230.8,276.5L232.3,275.4L233.8,274.5L235.3,273.6L236.8,272.8L238.3,272.1L239.9,271.6L241.4,271.2L242.9,270.9L244.4,270.7L245.9,270.6L247.4,270.7L248.9,271.0L250.4,271.4L251.9,271.9L253.4,272.5L254.9,273.3L256.4,274.2L257.9,275.2L259.4,276.4L260.9,277.7L262.4,279.1L263.9,280.6L265.4,282.3L266.9,284.0L268.4,285.9L269.9,287.9L271.4,290.1L272.9,292.3L274.4,294.7L275.9,297.3L277.4,300.1L278.9,303.1L280.4,306.4L281.9,309.8L283.4,313.2L284.9,316.7L286.4,320.2L287.9,323.5L289.4,326.7L290.9,329.7L292.4,332.6L293.9,335.4L295.4,338.1L296.9,340.7L298.4,343.3L299.9,345.8L301.4,348.4L302.9,351.0L304.4,353.7L305.9,356.4L307.4,359.2L308.9,362.0L310.4,364.8L311.9,367.5L313.4,370.1L314.9,372.6L316.4,375.0L317.9,377.4L319.4,379.6L320.9,381.7L322.4,383.8L323.9,385.8L325.4,387.7L326.9,389.5L328.4,391.3L329.9,393.1L331.4,394.8L332.9,396.5L334.4,398.1L335.9,399.7L337.4,401.3L338.9,402.8L340.4,404.4L341.9,405.9L343.4,407.4L344.9,408.8L346.4,410.2L347.9,411.6L349.4,412.9L350.9,414.2L352.4,415.4L353.9,416.5L355.4,417.6L356.9,418.5L358.4,419.4L359.9,420.3L361.4,421.0L362.9,421.7L364.4,422.3L365.9,422.9L367.4,423.4L368.9,423.9L370.4,424.4L371.9,424.8L373.4,425.2L374.9,425.6L376.4,426.0L377.9,426.4L379.4,426.8L380.9,427.2L382.4,427.5L383.9,427.9L385.5,428.2L387.0,428.5L388.5,428.8L390.0,429.1L391.5,429.4L393.0,429.6L394.5,429.9L396.0,430.1L397.5,430.4L399.0,430.6L400.5,430.8L402.0,431.0L403.5,431.1L405.0,431.3L406.5,431.4L408.0,431.6L409.5,431.7L411.0,431.8L412.5,431.9L414.0,432.0L415.5,432.1L417.0,432.2L418.5,432.3L420.0,432.4L421.5,432.4L423.0,432.5L424.5,432.6L426.0,432.6L427.5,432.7L429.0,432.7L430.5,432.7L432.0,432.8L433.5,432.8L435.0,432.9L436.5,432.9L438.0,432.9L439.5,433.0L441.0,433.0L442.5,433.0L444.0,433.1L445.5,433.1L447.0,433.2L448.5,433.2L450.0,433.3L451.5,433.3L453.0,433.4L454.5,433.4L456.0,433.5L457.5,433.6L457.5,433.7 L22.2,433.7 Z" fill="#d9f2e6" fill-opacity="0.60" stroke="none" clip-path="url(#c1g)"/>
<line x1="242.20" x2="242.20" y1="270.98" y2="433.70" stroke="#2d8659" stroke-opacity="0.80" stroke-width="4.30"/>
<path d="M22.2,433.6L23.7,433.6L25.2,433.5L26.7,433.5L28.2,433.4L29.7,433.3L31.2,433.3L32.7,433.2L34.2,433.1L35.7,433.0L37.2,432.9L38.7,432.9L40.2,432.8L41.7,432.7L43.2,432.6L44.7,432.5L46.2,432.4L47.7,432.3L49.2,432.2L50.7,432.1L52.2,432.0L53.7,432.0L55.2,431.9L56.7,431.8L58.2,431.8L59.7,431.7L61.2,431.7L62.7,431.6L64.2,431.6L65.7,431.6L67.2,431.5L68.7,431.5L70.2,431.4L71.7,431.4L73.2,431.3L74.7,431.2L76.2,431.1L77.7,431.0L79.2,430.9L80.7,430.7L82.2,430.5L83.7,430.3L85.2,430.1L86.7,429.8L88.2,429.5L89.7,429.2L91.2,428.8L92.7,428.5L94.2,428.0L95.8,427.6L97.3,427.2L98.8,426.7L100.3,426.2L101.8,425.7L103.3,425.2L104.8,424.6L106.3,424.1L107.8,423.6L109.3,423.0L110.8,422.4L112.3,421.9L113.8,421.3L115.3,420.8L116.8,420.2L118.3,419.6L119.8,419.0L121.3,418.4L122.8,417.8L124.3,417.2L125.8,416.5L127.3,415.7L128.8,415.0L130.3,414.1L131.8,413.1L133.3,412.1L134.8,410.9L136.3,409.7L137.8,408.3L139.3,406.8L140.8,405.3L142.3,403.7L143.8,402.0L145.3,400.3L146.8,398.6L148.3,396.9L149.8,395.1L151.3,393.3L152.8,391.5L154.3,389.6L155.8,387.7L157.3,385.6L158.8,383.5L160.3,381.2L161.8,378.8L163.3,376.3L164.8,373.7L166.3,371.0L167.8,368.3L169.3,365.6L170.8,362.9L172.3,360.3L173.8,357.9L175.3,355.5L176.8,353.2L178.3,350.9L179.8,348.5L181.3,346.1L182.8,343.7L184.3,341.2L185.8,338.7L187.3,336.2L188.8,333.7L190.3,331.2L191.8,328.8L193.3,326.3L194.8,323.9L196.3,321.5L197.8,319.1L199.3,316.7L200.8,314.3L202.3,312.0L203.8,309.6L205.3,307.2L206.8,304.8L208.3,302.4L209.8,300.1L211.3,297.9L212.8,295.7L214.3,293.7L215.8,291.7L217.3,289.8L218.8,288.1L220.3,286.4L221.8,284.7L223.3,283.2L224.8,281.7L226.3,280.3L227.8,278.9L229.3,277.7L230.8,276.5L232.3,275.4L233.8,274.5L235.3,273.6L236.8,272.8L238.3,272.1L239.9,271.6L241.4,271.2L242.9,270.9L244.4,270.7L245.9,270.6L247.4,270.7L248.9,271.0L250.4,271.4L251.9,271.9L253.4,272.5L254.9,273.3L256.4,274.2L257.9,275.2L259.4,276.4L260.9,277.7L262.4,279.1L263.9,280.6L265.4,282.3L266.9,284.0L268.4,285.9L269.9,287.9L271.4,290.1L272.9,292.3L274.4,294.7L275.9,297.3L277.4,300.1L278.9,303.1L280.4,306.4L281.9,309.8L283.4,313.2L284.9,316.7L286.4,320.2L287.9,323.5L289.4,326.7L290.9,329.7L292.4,332.6L293.9,335.4L295.4,338.1L296.9,340.7L298.4,343.3L299.9,345.8L301.4,348.4L302.9,351.0L304.4,353.7L305.9,356.4L307.4,359.2L308.9,362.0L310.4,364.8L311.9,367.5L313.4,370.1L314.9,372.6L316.4,375.0L317.9,377.4L319.4,379.6L320.9,381.7L322.4,383.8L323.9,385.8L325.4,387.7L326.9,389.5L328.4,391.3L329.9,393.1L331.4,394.8L332.9,396.5L334.4,398.1L335.9,399.7L337.4,401.3L338.9,402.8L340.4,404.4L341.9,405.9L343.4,407.4L344.9,408.8L346.4,410.2L347.9,411.6L349.4,412.9L350.9,414.2L352.4,415.4L353.9,416.5L355.4,417.6L356.9,418.5L358.4,419.4L359.9,420.3L361.4,421.0L362.9,421.7L364.4,422.3L365.9,422.9L367.4,423.4L368.9,423.9L370.4,424.4L371.9,424.8L373.4,425.2L374.9,425.6L376.4,426.0L377.9,426.4L379.4,426.8L380.9,427.2L382.4,427.5L383.9,427.9L385.5,428.2L387.0,428.5L388.5,428.8L390.0,429.1L391.5,429.4L393.0,429.6L394.5,429.9L396.0,430.1L397.5,430.4L399.0,430.6L400.5,430.8L402.0,431.0L403.5,431.1L405.0,431.3L406.5,431.4L408.0,431.6L409.5,431.7L411.0,431.8L412.5,431.9L414.0,432.0L415.5,432.1L417.0,432.2L418.5,432.3L420.0,432.4L421.5,432.4L423.0,432.5L424.5,432.6L426.0,432.6L427.5,432.7L429.0,432.7L430.5,432.7L432.0,432.8L433.5,432.8L435.0,432.9L436.5,432.9L438.0,432.9L439.5,433.0L441.0,433.0L442.5,433.0L444.0,433.1L445.5,433.1L447.0,433.2L448.5,433.2L450.0,433.3L451.5,433.3L453.0,433.4L454.5,433.4L456.0,433.5L457.5,433.6" fill="none" stroke="#2d8659" stroke-width="2.15" stroke-linejoin="round" stroke-linecap="butt"/>
<line x1="0.75" x2="0.75" y1="252.90" y2="443.60" stroke="#3a3a3a" stroke-width="1.4"/>
<line x1="0" x2="491" y1="442.90" y2="442.90" stroke="#3a3a3a" stroke-width="1.4"/>
<line x1="29.05" x2="29.05" y1="443.50" y2="447.80" stroke="#3a3a3a" stroke-width="1.5"/>
<text x="29.50" y="462.10" font-size="15.5" fill="#4d4d4d" text-anchor="middle"><tspan dy="1.2">−</tspan><tspan dy="-1.2">0.06</tspan></text>
<line x1="91.03" x2="91.03" y1="443.50" y2="447.80" stroke="#3a3a3a" stroke-width="1.5"/>
<text x="91.48" y="462.10" font-size="15.5" fill="#4d4d4d" text-anchor="middle"><tspan dy="1.2">−</tspan><tspan dy="-1.2">0.04</tspan></text>
<line x1="153.01" x2="153.01" y1="443.50" y2="447.80" stroke="#3a3a3a" stroke-width="1.5"/>
<text x="153.46" y="462.10" font-size="15.5" fill="#4d4d4d" text-anchor="middle"><tspan dy="1.2">−</tspan><tspan dy="-1.2">0.02</tspan></text>
<line x1="214.99" x2="214.99" y1="443.50" y2="447.80" stroke="#3a3a3a" stroke-width="1.5"/>
<text x="215.19" y="462.10" font-size="15.5" fill="#4d4d4d" text-anchor="middle">0.00</text>
<line x1="276.97" x2="276.97" y1="443.50" y2="447.80" stroke="#3a3a3a" stroke-width="1.5"/>
<text x="277.17" y="462.10" font-size="15.5" fill="#4d4d4d" text-anchor="middle">0.02</text>
<line x1="338.95" x2="338.95" y1="443.50" y2="447.80" stroke="#3a3a3a" stroke-width="1.5"/>
<text x="339.15" y="462.10" font-size="15.5" fill="#4d4d4d" text-anchor="middle">0.04</text>
<line x1="400.93" x2="400.93" y1="443.50" y2="447.80" stroke="#3a3a3a" stroke-width="1.5"/>
<text x="401.13" y="462.10" font-size="15.5" fill="#4d4d4d" text-anchor="middle">0.06</text>
<text transform="translate(3.52,272.20) scale(1.005,1)" x="0" y="0" font-size="20.4" fill="#000000">DL</text>
<line x1="215.05" x2="215.05" y1="505.30" y2="695.40" stroke="#e6e6e6" stroke-width="1.9"/>
<path d="M25.0,686.0L26.5,686.0L28.0,686.0L29.5,686.0L31.0,685.9L32.5,685.8L34.0,685.7L35.5,685.7L37.0,685.6L38.5,685.5L40.0,685.5L41.5,685.4L43.0,685.3L44.5,685.2L46.0,685.1L47.5,685.0L49.0,684.9L50.5,684.7L52.0,684.6L53.5,684.4L55.0,684.2L56.5,684.0L58.0,683.8L59.5,683.5L61.0,683.3L62.5,683.0L63.9,682.7L65.4,682.3L66.9,681.9L68.4,681.5L69.9,681.1L71.4,680.6L72.9,680.1L74.4,679.6L75.9,679.0L77.4,678.4L78.9,677.8L80.4,677.1L81.9,676.4L83.4,675.6L84.9,674.8L86.4,674.0L87.9,673.1L89.4,672.1L90.9,671.2L92.4,670.2L93.9,669.2L95.4,668.1L96.9,667.0L98.4,665.9L99.9,664.7L101.4,663.5L102.9,662.3L104.4,661.0L105.9,659.7L107.4,658.4L108.9,657.0L110.4,655.5L111.9,654.0L113.4,652.4L114.9,650.7L116.4,648.9L117.9,647.0L119.4,644.9L120.9,642.7L122.4,640.4L123.9,637.9L125.4,635.2L126.9,632.3L128.4,629.2L129.9,626.1L131.4,623.0L132.9,620.0L134.4,617.4L135.9,615.1L137.4,612.9L138.9,610.7L140.3,608.5L141.8,606.3L143.3,604.1L144.8,601.8L146.3,599.5L147.8,597.2L149.3,594.7L150.8,592.3L152.3,589.7L153.8,587.2L155.3,584.5L156.8,581.9L158.3,579.2L159.8,576.4L161.3,573.6L162.8,570.8L164.3,567.9L165.8,565.0L167.3,562.0L168.8,559.0L170.3,556.0L171.8,553.0L173.3,550.1L174.8,547.2L176.3,544.4L177.8,541.8L179.3,539.4L180.8,537.1L182.3,535.1L183.8,533.3L185.3,531.7L186.8,530.2L188.3,528.9L189.8,527.7L191.3,526.7L192.8,525.7L194.3,525.0L195.8,524.3L197.3,523.7L198.8,523.3L200.3,523.0L201.8,522.8L203.3,522.7L204.8,522.8L206.3,522.9L207.8,523.1L209.3,523.5L210.8,524.0L212.3,524.7L213.8,525.5L215.3,526.4L216.7,527.6L218.2,528.9L219.7,530.4L221.2,532.2L222.7,534.1L224.2,536.3L225.7,538.7L227.2,541.1L228.7,543.7L230.2,546.3L231.7,548.8L233.2,551.3L234.7,553.8L236.2,556.2L237.7,558.7L239.2,561.3L240.7,564.0L242.2,567.0L243.7,570.0L245.2,573.2L246.7,576.5L248.2,579.8L249.7,583.1L251.2,586.4L252.7,589.7L254.2,593.0L255.7,596.3L257.2,599.7L258.7,603.1L260.2,606.3L261.7,609.5L263.2,612.6L264.7,615.4L266.2,618.2L267.7,620.8L269.2,623.4L270.7,625.8L272.2,628.1L273.7,630.4L275.2,632.6L276.7,634.7L278.2,636.8L279.7,638.8L281.2,640.8L282.7,642.9L284.2,644.9L285.7,646.8L287.2,648.8L288.7,650.7L290.2,652.5L291.7,654.3L293.1,656.0L294.6,657.7L296.1,659.2L297.6,660.6L299.1,661.9L300.6,663.2L302.1,664.4L303.6,665.6L305.1,666.7L306.6,668.0L308.1,669.2L309.6,670.4L311.1,671.6L312.6,672.8L314.1,674.0L315.6,675.1L317.1,676.1L318.6,677.1L320.1,677.9L321.6,678.8L323.1,679.5L324.6,680.2L326.1,680.8L327.6,681.4L329.1,681.9L330.6,682.4L332.1,682.8L333.6,683.2L335.1,683.5L336.6,683.8L338.1,684.1L339.6,684.3L341.1,684.6L342.6,684.8L344.1,684.9L345.6,685.1L347.1,685.2L348.6,685.4L350.1,685.5L351.6,685.6L353.1,685.7L354.6,685.8L356.1,685.9L357.6,685.9L359.1,686.0L360.6,686.0L362.1,686.0L363.6,686.0L365.1,686.0L366.6,686.0L368.1,686.0L369.5,686.0L371.0,686.0L372.5,686.0L374.0,686.0L375.5,686.0L377.0,686.0L378.5,686.0L380.0,686.0L381.5,686.0L383.0,686.0L384.5,686.0L386.0,686.0L387.5,686.0L389.0,686.0L390.5,686.0L392.0,686.0L393.5,686.0L395.0,686.0L396.5,686.0L398.0,686.0L399.5,686.0L401.0,686.0L402.5,686.0L404.0,686.0L405.5,686.0L407.0,686.0L407.0,686.0 L25.0,686.0 Z" fill="#dcbccc" fill-opacity="0.60" stroke="none" clip-path="url(#c2m)"/>
<line x1="201.50" x2="201.50" y1="522.86" y2="686.00" stroke="#8f275b" stroke-opacity="0.80" stroke-width="2.00"/>
<path d="M25.0,686.0L26.5,686.0L28.0,686.0L29.5,686.0L31.0,685.9L32.5,685.8L34.0,685.7L35.5,685.7L37.0,685.6L38.5,685.5L40.0,685.5L41.5,685.4L43.0,685.3L44.5,685.2L46.0,685.1L47.5,685.0L49.0,684.9L50.5,684.7L52.0,684.6L53.5,684.4L55.0,684.2L56.5,684.0L58.0,683.8L59.5,683.5L61.0,683.3L62.5,683.0L63.9,682.7L65.4,682.3L66.9,681.9L68.4,681.5L69.9,681.1L71.4,680.6L72.9,680.1L74.4,679.6L75.9,679.0L77.4,678.4L78.9,677.8L80.4,677.1L81.9,676.4L83.4,675.6L84.9,674.8L86.4,674.0L87.9,673.1L89.4,672.1L90.9,671.2L92.4,670.2L93.9,669.2L95.4,668.1L96.9,667.0L98.4,665.9L99.9,664.7L101.4,663.5L102.9,662.3L104.4,661.0L105.9,659.7L107.4,658.4L108.9,657.0L110.4,655.5L111.9,654.0L113.4,652.4L114.9,650.7L116.4,648.9L117.9,647.0L119.4,644.9L120.9,642.7L122.4,640.4L123.9,637.9L125.4,635.2L126.9,632.3L128.4,629.2L129.9,626.1L131.4,623.0L132.9,620.0L134.4,617.4L135.9,615.1L137.4,612.9L138.9,610.7L140.3,608.5L141.8,606.3L143.3,604.1L144.8,601.8L146.3,599.5L147.8,597.2L149.3,594.7L150.8,592.3L152.3,589.7L153.8,587.2L155.3,584.5L156.8,581.9L158.3,579.2L159.8,576.4L161.3,573.6L162.8,570.8L164.3,567.9L165.8,565.0L167.3,562.0L168.8,559.0L170.3,556.0L171.8,553.0L173.3,550.1L174.8,547.2L176.3,544.4L177.8,541.8L179.3,539.4L180.8,537.1L182.3,535.1L183.8,533.3L185.3,531.7L186.8,530.2L188.3,528.9L189.8,527.7L191.3,526.7L192.8,525.7L194.3,525.0L195.8,524.3L197.3,523.7L198.8,523.3L200.3,523.0L201.8,522.8L203.3,522.7L204.8,522.8L206.3,522.9L207.8,523.1L209.3,523.5L210.8,524.0L212.3,524.7L213.8,525.5L215.3,526.4L216.7,527.6L218.2,528.9L219.7,530.4L221.2,532.2L222.7,534.1L224.2,536.3L225.7,538.7L227.2,541.1L228.7,543.7L230.2,546.3L231.7,548.8L233.2,551.3L234.7,553.8L236.2,556.2L237.7,558.7L239.2,561.3L240.7,564.0L242.2,567.0L243.7,570.0L245.2,573.2L246.7,576.5L248.2,579.8L249.7,583.1L251.2,586.4L252.7,589.7L254.2,593.0L255.7,596.3L257.2,599.7L258.7,603.1L260.2,606.3L261.7,609.5L263.2,612.6L264.7,615.4L266.2,618.2L267.7,620.8L269.2,623.4L270.7,625.8L272.2,628.1L273.7,630.4L275.2,632.6L276.7,634.7L278.2,636.8L279.7,638.8L281.2,640.8L282.7,642.9L284.2,644.9L285.7,646.8L287.2,648.8L288.7,650.7L290.2,652.5L291.7,654.3L293.1,656.0L294.6,657.7L296.1,659.2L297.6,660.6L299.1,661.9L300.6,663.2L302.1,664.4L303.6,665.6L305.1,666.7L306.6,668.0L308.1,669.2L309.6,670.4L311.1,671.6L312.6,672.8L314.1,674.0L315.6,675.1L317.1,676.1L318.6,677.1L320.1,677.9L321.6,678.8L323.1,679.5L324.6,680.2L326.1,680.8L327.6,681.4L329.1,681.9L330.6,682.4L332.1,682.8L333.6,683.2L335.1,683.5L336.6,683.8L338.1,684.1L339.6,684.3L341.1,684.6L342.6,684.8L344.1,684.9L345.6,685.1L347.1,685.2L348.6,685.4L350.1,685.5L351.6,685.6L353.1,685.7L354.6,685.8L356.1,685.9L357.6,685.9L359.1,686.0L360.6,686.0L362.1,686.0L363.6,686.0L365.1,686.0L366.6,686.0L368.1,686.0L369.5,686.0L371.0,686.0L372.5,686.0L374.0,686.0L375.5,686.0L377.0,686.0L378.5,686.0L380.0,686.0L381.5,686.0L383.0,686.0L384.5,686.0L386.0,686.0L387.5,686.0L389.0,686.0L390.5,686.0L392.0,686.0L393.5,686.0L395.0,686.0L396.5,686.0L398.0,686.0L399.5,686.0L401.0,686.0L402.5,686.0L404.0,686.0L405.5,686.0L407.0,686.0" fill="none" stroke="#8f275b" stroke-width="2.15" stroke-linejoin="round" stroke-linecap="butt"/>
<path d="M22.6,686.0L24.1,686.0L25.6,686.0L27.1,685.9L28.6,685.8L30.1,685.8L31.6,685.7L33.1,685.6L34.6,685.5L36.1,685.4L37.6,685.2L39.1,685.1L40.6,685.0L42.1,684.8L43.6,684.7L45.1,684.5L46.6,684.3L48.1,684.1L49.6,683.9L51.1,683.7L52.6,683.4L54.1,683.2L55.6,682.9L57.1,682.6L58.6,682.2L60.1,681.9L61.6,681.5L63.1,681.1L64.6,680.6L66.1,680.2L67.6,679.7L69.1,679.2L70.6,678.6L72.1,678.0L73.6,677.4L75.1,676.7L76.6,676.0L78.1,675.3L79.6,674.5L81.1,673.7L82.6,672.9L84.1,672.0L85.6,671.1L87.1,670.1L88.6,669.1L90.1,668.1L91.6,667.0L93.1,665.9L94.6,664.8L96.1,663.6L97.6,662.4L99.1,661.2L100.6,659.9L102.1,658.6L103.6,657.2L105.1,655.8L106.6,654.4L108.1,652.9L109.6,651.4L111.1,649.9L112.6,648.3L114.1,646.7L115.6,645.0L117.1,643.3L118.6,641.6L120.1,639.8L121.6,638.0L123.1,636.2L124.6,634.3L126.1,632.4L127.6,630.5L129.1,628.5L130.6,626.4L132.1,624.4L133.6,622.3L135.1,620.1L136.6,618.0L138.1,615.8L139.6,613.5L141.1,611.2L142.6,608.9L144.1,606.5L145.6,604.2L147.1,601.7L148.6,599.2L150.1,596.7L151.6,594.2L153.1,591.6L154.6,589.0L156.1,586.3L157.6,583.6L159.1,580.9L160.6,578.1L162.1,575.3L163.6,572.5L165.1,569.7L166.6,566.9L168.1,564.0L169.6,561.2L171.1,558.3L172.6,555.4L174.1,552.6L175.6,549.7L177.1,546.9L178.6,544.1L180.1,541.3L181.6,538.7L183.1,536.1L184.6,533.8L186.1,531.6L187.6,529.6L189.1,527.8L190.6,526.3L192.1,525.1L193.6,524.2L195.1,523.5L196.6,523.2L198.1,523.0L199.6,523.1L201.1,523.4L202.6,523.9L204.1,524.6L205.6,525.4L207.1,526.3L208.6,527.3L210.1,528.3L211.6,529.3L213.1,530.3L214.5,531.2L216.0,532.0L217.5,532.7L219.0,533.3L220.5,534.0L222.0,534.7L223.5,535.6L225.0,536.6L226.5,537.7L228.0,539.1L229.5,540.7L231.0,542.6L232.5,544.8L234.0,547.2L235.5,549.7L237.0,552.2L238.5,554.7L240.0,557.1L241.5,559.5L243.0,562.0L244.5,564.6L246.0,567.3L247.5,570.4L249.0,573.6L250.5,576.9L252.0,580.1L253.5,583.1L255.0,586.0L256.5,588.8L258.0,591.5L259.5,594.0L261.0,596.5L262.5,598.9L264.0,601.3L265.5,603.7L267.0,606.2L268.5,608.9L270.0,611.7L271.5,614.8L273.0,617.8L274.5,620.6L276.0,623.2L277.5,625.5L279.0,627.6L280.5,629.6L282.0,631.5L283.5,633.3L285.0,635.1L286.5,636.9L288.0,638.8L289.5,640.7L291.0,642.7L292.5,644.7L294.0,646.6L295.5,648.5L297.0,650.2L298.5,651.9L300.0,653.6L301.5,655.1L303.0,656.6L304.5,658.0L306.0,659.4L307.5,660.7L309.0,662.0L310.5,663.2L312.0,664.4L313.5,665.5L315.0,666.7L316.5,667.7L318.0,668.7L319.5,669.7L321.0,670.7L322.5,671.6L324.0,672.5L325.5,673.3L327.0,674.1L328.5,674.9L330.0,675.7L331.5,676.4L333.0,677.1L334.5,677.7L336.0,678.3L337.5,678.9L339.0,679.5L340.5,680.0L342.0,680.5L343.5,681.0L345.0,681.5L346.5,681.9L348.0,682.3L349.5,682.7L351.0,683.1L352.5,683.4L354.0,683.7L355.5,684.0L357.0,684.3L358.5,684.5L360.0,684.7L361.5,684.9L363.0,685.1L364.5,685.3L366.0,685.5L367.5,685.6L369.0,685.7L370.5,685.8L372.0,685.9L373.5,686.0L375.0,686.0L376.5,686.0L378.0,686.0L379.5,686.0L381.0,686.0L382.5,686.0L384.0,686.0L385.5,686.0L387.0,686.0L388.5,686.0L390.0,686.0L391.5,686.0L393.0,686.0L394.5,686.0L396.0,686.0L397.5,686.0L399.0,686.0L400.5,686.0L402.0,686.0L403.5,686.0L405.0,686.0L406.5,686.0L406.5,686.0 L22.6,686.0 Z" fill="#d1e1ec" fill-opacity="0.60" stroke="none" clip-path="url(#c2b)"/>
<line x1="204.00" x2="204.00" y1="524.53" y2="686.00" stroke="#03396c" stroke-opacity="0.80" stroke-width="3.00"/>
<path d="M22.6,686.0L24.1,686.0L25.6,686.0L27.1,685.9L28.6,685.8L30.1,685.8L31.6,685.7L33.1,685.6L34.6,685.5L36.1,685.4L37.6,685.2L39.1,685.1L40.6,685.0L42.1,684.8L43.6,684.7L45.1,684.5L46.6,684.3L48.1,684.1L49.6,683.9L51.1,683.7L52.6,683.4L54.1,683.2L55.6,682.9L57.1,682.6L58.6,682.2L60.1,681.9L61.6,681.5L63.1,681.1L64.6,680.6L66.1,680.2L67.6,679.7L69.1,679.2L70.6,678.6L72.1,678.0L73.6,677.4L75.1,676.7L76.6,676.0L78.1,675.3L79.6,674.5L81.1,673.7L82.6,672.9L84.1,672.0L85.6,671.1L87.1,670.1L88.6,669.1L90.1,668.1L91.6,667.0L93.1,665.9L94.6,664.8L96.1,663.6L97.6,662.4L99.1,661.2L100.6,659.9L102.1,658.6L103.6,657.2L105.1,655.8L106.6,654.4L108.1,652.9L109.6,651.4L111.1,649.9L112.6,648.3L114.1,646.7L115.6,645.0L117.1,643.3L118.6,641.6L120.1,639.8L121.6,638.0L123.1,636.2L124.6,634.3L126.1,632.4L127.6,630.5L129.1,628.5L130.6,626.4L132.1,624.4L133.6,622.3L135.1,620.1L136.6,618.0L138.1,615.8L139.6,613.5L141.1,611.2L142.6,608.9L144.1,606.5L145.6,604.2L147.1,601.7L148.6,599.2L150.1,596.7L151.6,594.2L153.1,591.6L154.6,589.0L156.1,586.3L157.6,583.6L159.1,580.9L160.6,578.1L162.1,575.3L163.6,572.5L165.1,569.7L166.6,566.9L168.1,564.0L169.6,561.2L171.1,558.3L172.6,555.4L174.1,552.6L175.6,549.7L177.1,546.9L178.6,544.1L180.1,541.3L181.6,538.7L183.1,536.1L184.6,533.8L186.1,531.6L187.6,529.6L189.1,527.8L190.6,526.3L192.1,525.1L193.6,524.2L195.1,523.5L196.6,523.2L198.1,523.0L199.6,523.1L201.1,523.4L202.6,523.9L204.1,524.6L205.6,525.4L207.1,526.3L208.6,527.3L210.1,528.3L211.6,529.3L213.1,530.3L214.5,531.2L216.0,532.0L217.5,532.7L219.0,533.3L220.5,534.0L222.0,534.7L223.5,535.6L225.0,536.6L226.5,537.7L228.0,539.1L229.5,540.7L231.0,542.6L232.5,544.8L234.0,547.2L235.5,549.7L237.0,552.2L238.5,554.7L240.0,557.1L241.5,559.5L243.0,562.0L244.5,564.6L246.0,567.3L247.5,570.4L249.0,573.6L250.5,576.9L252.0,580.1L253.5,583.1L255.0,586.0L256.5,588.8L258.0,591.5L259.5,594.0L261.0,596.5L262.5,598.9L264.0,601.3L265.5,603.7L267.0,606.2L268.5,608.9L270.0,611.7L271.5,614.8L273.0,617.8L274.5,620.6L276.0,623.2L277.5,625.5L279.0,627.6L280.5,629.6L282.0,631.5L283.5,633.3L285.0,635.1L286.5,636.9L288.0,638.8L289.5,640.7L291.0,642.7L292.5,644.7L294.0,646.6L295.5,648.5L297.0,650.2L298.5,651.9L300.0,653.6L301.5,655.1L303.0,656.6L304.5,658.0L306.0,659.4L307.5,660.7L309.0,662.0L310.5,663.2L312.0,664.4L313.5,665.5L315.0,666.7L316.5,667.7L318.0,668.7L319.5,669.7L321.0,670.7L322.5,671.6L324.0,672.5L325.5,673.3L327.0,674.1L328.5,674.9L330.0,675.7L331.5,676.4L333.0,677.1L334.5,677.7L336.0,678.3L337.5,678.9L339.0,679.5L340.5,680.0L342.0,680.5L343.5,681.0L345.0,681.5L346.5,681.9L348.0,682.3L349.5,682.7L351.0,683.1L352.5,683.4L354.0,683.7L355.5,684.0L357.0,684.3L358.5,684.5L360.0,684.7L361.5,684.9L363.0,685.1L364.5,685.3L366.0,685.5L367.5,685.6L369.0,685.7L370.5,685.8L372.0,685.9L373.5,686.0L375.0,686.0L376.5,686.0L378.0,686.0L379.5,686.0L381.0,686.0L382.5,686.0L384.0,686.0L385.5,686.0L387.0,686.0L388.5,686.0L390.0,686.0L391.5,686.0L393.0,686.0L394.5,686.0L396.0,686.0L397.5,686.0L399.0,686.0L400.5,686.0L402.0,686.0L403.5,686.0L405.0,686.0L406.5,686.0" fill="none" stroke="#03396c" stroke-width="2.15" stroke-linejoin="round" stroke-linecap="butt"/>
<path d="M22.6,686.0L24.1,686.0L25.6,686.0L27.1,685.9L28.6,685.9L30.1,685.8L31.6,685.7L33.1,685.7L34.6,685.6L36.1,685.6L37.6,685.6L39.1,685.5L40.6,685.5L42.1,685.4L43.6,685.3L45.1,685.3L46.6,685.2L48.1,685.1L49.6,685.0L51.1,684.9L52.6,684.7L54.1,684.6L55.6,684.4L57.0,684.2L58.5,684.0L60.0,683.8L61.5,683.5L63.0,683.2L64.5,682.9L66.0,682.6L67.5,682.2L69.0,681.8L70.5,681.4L72.0,680.9L73.5,680.4L75.0,679.8L76.5,679.2L78.0,678.6L79.5,677.9L81.0,677.1L82.5,676.4L84.0,675.5L85.5,674.7L87.0,673.8L88.5,672.9L90.0,671.9L91.5,671.0L93.0,670.0L94.5,668.9L96.0,667.9L97.5,666.9L99.0,665.8L100.5,664.8L102.0,663.7L103.5,662.6L105.0,661.6L106.5,660.5L108.0,659.4L109.5,658.2L111.0,657.0L112.5,655.6L114.0,654.1L115.5,652.5L117.0,650.6L118.5,648.6L120.0,646.4L121.5,644.1L123.0,641.8L124.5,639.4L125.9,637.1L127.4,634.7L128.9,632.3L130.4,629.9L131.9,627.5L133.4,625.2L134.9,622.9L136.4,620.7L137.9,618.5L139.4,616.3L140.9,614.2L142.4,612.0L143.9,609.9L145.4,607.8L146.9,605.6L148.4,603.5L149.9,601.3L151.4,599.1L152.9,596.8L154.4,594.3L155.9,591.8L157.4,589.0L158.9,586.2L160.4,583.2L161.9,580.3L163.4,577.3L164.9,574.4L166.4,571.6L167.9,568.7L169.4,566.0L170.9,563.2L172.4,560.5L173.9,557.8L175.4,555.2L176.9,552.5L178.4,550.0L179.9,547.5L181.4,545.0L182.9,542.5L184.4,540.1L185.9,537.8L187.4,535.6L188.9,533.5L190.4,531.5L191.9,529.8L193.4,528.1L194.8,526.7L196.3,525.5L197.8,524.6L199.3,523.9L200.8,523.5L202.3,523.2L203.8,523.3L205.3,523.5L206.8,523.9L208.3,524.4L209.8,525.1L211.3,526.0L212.8,527.0L214.3,528.0L215.8,529.0L217.3,530.1L218.8,531.1L220.3,532.1L221.8,533.2L223.3,534.3L224.8,535.5L226.3,536.9L227.8,538.5L229.3,540.2L230.8,542.2L232.3,544.3L233.8,546.6L235.3,549.1L236.8,551.8L238.3,554.7L239.8,557.8L241.3,561.0L242.8,564.3L244.3,567.7L245.8,571.1L247.3,574.6L248.8,578.1L250.3,581.5L251.8,585.0L253.3,588.4L254.8,591.8L256.3,595.2L257.8,598.5L259.3,601.7L260.8,604.9L262.3,608.0L263.7,611.0L265.2,613.8L266.7,616.6L268.2,619.2L269.7,621.7L271.2,624.2L272.7,626.5L274.2,628.8L275.7,630.9L277.2,633.1L278.7,635.2L280.2,637.2L281.7,639.2L283.2,641.2L284.7,643.2L286.2,645.2L287.7,647.1L289.2,649.0L290.7,650.9L292.2,652.7L293.7,654.5L295.2,656.2L296.7,657.8L298.2,659.4L299.7,660.8L301.2,662.3L302.7,663.6L304.2,664.9L305.7,666.1L307.2,667.2L308.7,668.3L310.2,669.3L311.7,670.3L313.2,671.2L314.7,672.1L316.2,672.9L317.7,673.7L319.2,674.4L320.7,675.1L322.2,675.8L323.7,676.4L325.2,677.0L326.7,677.5L328.2,678.1L329.7,678.6L331.2,679.1L332.6,679.5L334.1,680.0L335.6,680.4L337.1,680.8L338.6,681.2L340.1,681.6L341.6,681.9L343.1,682.2L344.6,682.6L346.1,682.9L347.6,683.1L349.1,683.4L350.6,683.7L352.1,683.9L353.6,684.1L355.1,684.3L356.6,684.5L358.1,684.7L359.6,684.9L361.1,685.0L362.6,685.2L364.1,685.3L365.6,685.4L367.1,685.5L368.6,685.7L370.1,685.7L371.6,685.8L373.1,685.9L374.6,686.0L376.1,686.0L377.6,686.0L379.1,686.0L380.6,686.0L382.1,686.0L383.6,686.0L385.1,686.0L386.6,686.0L388.1,686.0L389.6,686.0L391.1,686.0L392.6,686.0L394.1,686.0L395.6,686.0L397.1,686.0L398.6,686.0L400.1,686.0L401.5,686.0L403.0,686.0L404.5,686.0L406.0,686.0L407.5,686.0L409.0,686.0L410.5,686.0L412.0,686.0L413.5,686.0L415.0,686.0L416.5,686.0L418.0,686.0L419.5,686.0L421.0,686.0L422.5,686.0L424.0,686.0L425.5,686.0L427.0,686.0L428.5,686.0L430.0,686.0L431.5,686.0L433.0,686.0L434.5,686.0L434.5,686.0 L22.6,686.0 Z" fill="#d9f2e6" fill-opacity="0.60" stroke="none" clip-path="url(#c2g)"/>
<line x1="204.45" x2="204.45" y1="523.31" y2="686.00" stroke="#2d8659" stroke-opacity="0.80" stroke-width="3.60"/>
<path d="M22.6,686.0L24.1,686.0L25.6,686.0L27.1,685.9L28.6,685.9L30.1,685.8L31.6,685.7L33.1,685.7L34.6,685.6L36.1,685.6L37.6,685.6L39.1,685.5L40.6,685.5L42.1,685.4L43.6,685.3L45.1,685.3L46.6,685.2L48.1,685.1L49.6,685.0L51.1,684.9L52.6,684.7L54.1,684.6L55.6,684.4L57.0,684.2L58.5,684.0L60.0,683.8L61.5,683.5L63.0,683.2L64.5,682.9L66.0,682.6L67.5,682.2L69.0,681.8L70.5,681.4L72.0,680.9L73.5,680.4L75.0,679.8L76.5,679.2L78.0,678.6L79.5,677.9L81.0,677.1L82.5,676.4L84.0,675.5L85.5,674.7L87.0,673.8L88.5,672.9L90.0,671.9L91.5,671.0L93.0,670.0L94.5,668.9L96.0,667.9L97.5,666.9L99.0,665.8L100.5,664.8L102.0,663.7L103.5,662.6L105.0,661.6L106.5,660.5L108.0,659.4L109.5,658.2L111.0,657.0L112.5,655.6L114.0,654.1L115.5,652.5L117.0,650.6L118.5,648.6L120.0,646.4L121.5,644.1L123.0,641.8L124.5,639.4L125.9,637.1L127.4,634.7L128.9,632.3L130.4,629.9L131.9,627.5L133.4,625.2L134.9,622.9L136.4,620.7L137.9,618.5L139.4,616.3L140.9,614.2L142.4,612.0L143.9,609.9L145.4,607.8L146.9,605.6L148.4,603.5L149.9,601.3L151.4,599.1L152.9,596.8L154.4,594.3L155.9,591.8L157.4,589.0L158.9,586.2L160.4,583.2L161.9,580.3L163.4,577.3L164.9,574.4L166.4,571.6L167.9,568.7L169.4,566.0L170.9,563.2L172.4,560.5L173.9,557.8L175.4,555.2L176.9,552.5L178.4,550.0L179.9,547.5L181.4,545.0L182.9,542.5L184.4,540.1L185.9,537.8L187.4,535.6L188.9,533.5L190.4,531.5L191.9,529.8L193.4,528.1L194.8,526.7L196.3,525.5L197.8,524.6L199.3,523.9L200.8,523.5L202.3,523.2L203.8,523.3L205.3,523.5L206.8,523.9L208.3,524.4L209.8,525.1L211.3,526.0L212.8,527.0L214.3,528.0L215.8,529.0L217.3,530.1L218.8,531.1L220.3,532.1L221.8,533.2L223.3,534.3L224.8,535.5L226.3,536.9L227.8,538.5L229.3,540.2L230.8,542.2L232.3,544.3L233.8,546.6L235.3,549.1L236.8,551.8L238.3,554.7L239.8,557.8L241.3,561.0L242.8,564.3L244.3,567.7L245.8,571.1L247.3,574.6L248.8,578.1L250.3,581.5L251.8,585.0L253.3,588.4L254.8,591.8L256.3,595.2L257.8,598.5L259.3,601.7L260.8,604.9L262.3,608.0L263.7,611.0L265.2,613.8L266.7,616.6L268.2,619.2L269.7,621.7L271.2,624.2L272.7,626.5L274.2,628.8L275.7,630.9L277.2,633.1L278.7,635.2L280.2,637.2L281.7,639.2L283.2,641.2L284.7,643.2L286.2,645.2L287.7,647.1L289.2,649.0L290.7,650.9L292.2,652.7L293.7,654.5L295.2,656.2L296.7,657.8L298.2,659.4L299.7,660.8L301.2,662.3L302.7,663.6L304.2,664.9L305.7,666.1L307.2,667.2L308.7,668.3L310.2,669.3L311.7,670.3L313.2,671.2L314.7,672.1L316.2,672.9L317.7,673.7L319.2,674.4L320.7,675.1L322.2,675.8L323.7,676.4L325.2,677.0L326.7,677.5L328.2,678.1L329.7,678.6L331.2,679.1L332.6,679.5L334.1,680.0L335.6,680.4L337.1,680.8L338.6,681.2L340.1,681.6L341.6,681.9L343.1,682.2L344.6,682.6L346.1,682.9L347.6,683.1L349.1,683.4L350.6,683.7L352.1,683.9L353.6,684.1L355.1,684.3L356.6,684.5L358.1,684.7L359.6,684.9L361.1,685.0L362.6,685.2L364.1,685.3L365.6,685.4L367.1,685.5L368.6,685.7L370.1,685.7L371.6,685.8L373.1,685.9L374.6,686.0L376.1,686.0L377.6,686.0L379.1,686.0L380.6,686.0L382.1,686.0L383.6,686.0L385.1,686.0L386.6,686.0L388.1,686.0L389.6,686.0L391.1,686.0L392.6,686.0L394.1,686.0L395.6,686.0L397.1,686.0L398.6,686.0L400.1,686.0L401.5,686.0L403.0,686.0L404.5,686.0L406.0,686.0L407.5,686.0L409.0,686.0L410.5,686.0L412.0,686.0L413.5,686.0L415.0,686.0L416.5,686.0L418.0,686.0L419.5,686.0L421.0,686.0L422.5,686.0L424.0,686.0L425.5,686.0L427.0,686.0L428.5,686.0L430.0,686.0L431.5,686.0L433.0,686.0L434.5,686.0" fill="none" stroke="#2d8659" stroke-width="2.15" stroke-linejoin="round" stroke-linecap="butt"/>
<line x1="0.75" x2="0.75" y1="505.30" y2="696.10" stroke="#3a3a3a" stroke-width="1.4"/>
<line x1="0" x2="491" y1="695.40" y2="695.40" stroke="#3a3a3a" stroke-width="1.4"/>
<line x1="29.05" x2="29.05" y1="696.00" y2="700.30" stroke="#3a3a3a" stroke-width="1.5"/>
<text x="29.50" y="714.60" font-size="15.5" fill="#4d4d4d" text-anchor="middle"><tspan dy="1.2">−</tspan><tspan dy="-1.2">0.6</tspan></text>
<line x1="91.03" x2="91.03" y1="696.00" y2="700.30" stroke="#3a3a3a" stroke-width="1.5"/>
<text x="91.48" y="714.60" font-size="15.5" fill="#4d4d4d" text-anchor="middle"><tspan dy="1.2">−</tspan><tspan dy="-1.2">0.4</tspan></text>
<line x1="153.01" x2="153.01" y1="696.00" y2="700.30" stroke="#3a3a3a" stroke-width="1.5"/>
<text x="153.46" y="714.60" font-size="15.5" fill="#4d4d4d" text-anchor="middle"><tspan dy="1.2">−</tspan><tspan dy="-1.2">0.2</tspan></text>
<line x1="214.99" x2="214.99" y1="696.00" y2="700.30" stroke="#3a3a3a" stroke-width="1.5"/>
<text x="215.19" y="714.60" font-size="15.5" fill="#4d4d4d" text-anchor="middle">0.0</text>
<line x1="276.97" x2="276.97" y1="696.00" y2="700.30" stroke="#3a3a3a" stroke-width="1.5"/>
<text x="277.17" y="714.60" font-size="15.5" fill="#4d4d4d" text-anchor="middle">0.2</text>
<line x1="338.95" x2="338.95" y1="696.00" y2="700.30" stroke="#3a3a3a" stroke-width="1.5"/>
<text x="339.15" y="714.60" font-size="15.5" fill="#4d4d4d" text-anchor="middle">0.4</text>
<line x1="400.93" x2="400.93" y1="696.00" y2="700.30" stroke="#3a3a3a" stroke-width="1.5"/>
<text x="401.13" y="714.60" font-size="15.5" fill="#4d4d4d" text-anchor="middle">0.6</text>
<text transform="translate(1.88,524.80) scale(0.930,1)" x="0" y="0" font-size="20.4" fill="#000000">PA</text>
<text x="496.7" y="320.9" font-size="18.7" fill="#000000">Model</text>
<rect x="498.00" y="334.00" width="27.00" height="31.65" fill="#dcbccc" fill-opacity="0.60" stroke="none"/>
<rect x="498.00" y="334.00" width="27.00" height="31.65" fill="none" stroke="#8f275b" stroke-width="2.1"/>
<text x="534.9" y="346.40" font-size="16.7" fill="#000000">(5) Fixed slopes and</text>
<text x="534.9" y="364.00" font-size="16.7" fill="#000000">intercepts</text>
<rect x="498.00" y="367.65" width="27.00" height="31.65" fill="#d1e1ec" fill-opacity="0.60" stroke="none"/>
<rect x="498.00" y="367.65" width="27.00" height="31.65" fill="none" stroke="#03396c" stroke-width="2.1"/>
<text x="534.9" y="380.05" font-size="16.7" fill="#000000">(6) Partial pooling of</text>
<text x="534.9" y="397.65" font-size="16.7" fill="#000000">regions</text>
<rect x="498.00" y="401.30" width="27.00" height="31.65" fill="#d9f2e6" fill-opacity="0.60" stroke="none"/>
<rect x="498.00" y="401.30" width="27.00" height="31.65" fill="none" stroke="#2d8659" stroke-width="2.1"/>
<text x="534.9" y="413.70" font-size="16.7" fill="#000000">(7) Partial pooling of</text>
<text x="534.9" y="431.30" font-size="16.7" fill="#000000">regions and periods</text>
</svg></body></html>
